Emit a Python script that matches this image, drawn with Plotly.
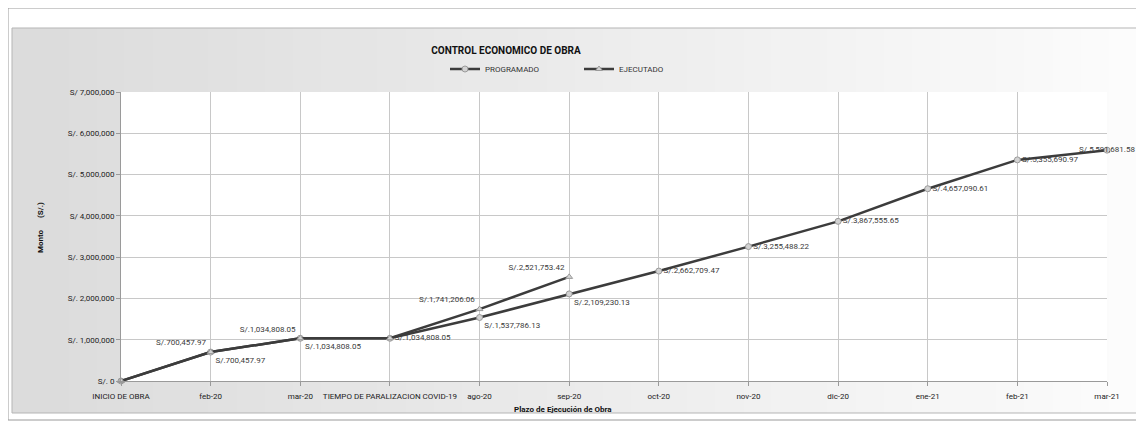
import plotly.graph_objects as go

categories = ["INICIO DE OBRA", "feb-20", "mar-20", "TIEMPO DE PARALIZACION COVID-19",
              "ago-20", "sep-20", "oct-20", "nov-20", "dic-20", "ene-21", "feb-21", "mar-21"]
programado = [0, 700457.97, 1034808.05, 1034808.05, 1537786.13, 2109230.13,
              2662709.47, 3255488.22, 3867555.65, 4657090.61, 5355690.97, 5591681.58]
ejecutado = [0, 700457.97, 1034808.05, 1034808.05, 1741206.06, 2521753.42,
             None, None, None, None, None, None]
y_ticks = [0, 1000000, 2000000, 3000000, 4000000, 5000000, 6000000, 7000000]
y_ticktext = ["S/. 0", "S/. 1,000,000", "S/. 2,000,000", "S/. 3,000,000",
              "S/ 4,000,000", "S/. 5,000,000", "S/. 6,000,000", "S/ 7,000,000"]


def fmt(v):
    if v is None or v == 0:
        return ""
    return "S/." + f"{v:,.2f}"


prog_pos = ["middle right", "bottom right", "bottom right", "middle right", "bottom right",
            "bottom right", "middle right", "middle right", "middle right", "middle right",
            "middle right", "middle center"]
ejec_pos = ["middle right", "top left", "top left", "top left", "top left", "top left",
            "top left", "top left", "top left", "top left", "top left", "top left"]
ejec_text = [fmt(v) for v in ejecutado]
ejec_text[3] = ""  # label hidden behind the programado one in the reference

FONT = "Roboto"
W, H = 1136, 417          # page body has an 8px margin
OFF = 8
L, T = 121 - OFF, 92 - OFF
PW, PH = 986, 289


def px(x):
    return (x - OFF - L) / PW


def py(y):
    return (T + PH - (y - OFF)) / PH


fig = go.Figure()

fig.add_trace(go.Scatter(
    x=categories, y=programado, name="PROGRAMADO", mode="lines+markers+text",
    line=dict(color="#3c3c3c", width=2.5),
    marker=dict(symbol="circle", size=6, color="#d2d2d2", line=dict(color="#9a9a9a", width=1)),
    text=[fmt(v) for v in programado], textposition=prog_pos,
    textfont=dict(family=FONT, size=8, color="#3a3a3a"), cliponaxis=False,
))
fig.add_trace(go.Scatter(
    x=categories, y=ejecutado, name="EJECUTADO", mode="lines+markers+text",
    line=dict(color="#3c3c3c", width=2.5),
    marker=dict(symbol="triangle-up", size=6, color="#d2d2d2", line=dict(color="#9a9a9a", width=1)),
    text=ejec_text, textposition=ejec_pos,
    textfont=dict(family=FONT, size=8, color="#3a3a3a"), cliponaxis=False,
))

shapes = []
n = 40
gx0, gx1 = 12, 1137
for i in range(n):
    t = i / (n - 1)
    g = int(220 + (252 - 220) * t)
    col = f"rgb({g},{g},{g})"
    a = gx0 + (gx1 - gx0) * i / n
    b = gx0 + (gx1 - gx0) * (i + 1) / n + 1
    shapes.append(dict(type="rect", xref="paper", yref="paper",
                       x0=px(a), x1=px(b), y0=py(413), y1=py(28),
                       fillcolor=col, line=dict(width=0), layer="below"))
shapes.append(dict(type="rect", xref="paper", yref="paper",
                   x0=px(8), x1=px(1141), y0=py(420), y1=py(8),
                   line=dict(color="#9a9a9a", width=1), fillcolor="rgba(0,0,0,0)", layer="below"))
shapes.append(dict(type="rect", xref="paper", yref="paper",
                   x0=px(12), x1=px(1137), y0=py(413), y1=py(28),
                   line=dict(color="#b5b5b5", width=1), fillcolor="rgba(0,0,0,0)", layer="below"))
shapes.append(dict(type="rect", xref="paper", yref="paper", x0=0, x1=1, y0=0, y1=1,
                   fillcolor="white", line=dict(width=0), layer="below"))

fig.update_layout(
    width=W, height=H,
    margin=dict(l=L, r=W - L - PW, t=T, b=H - T - PH),
    paper_bgcolor="white", plot_bgcolor="rgba(0,0,0,0)",
    font=dict(family=FONT, size=8, color="#2a2a2a"),
    title=dict(text="<b>CONTROL ECONOMICO DE OBRA</b>", x=(506 - OFF) / W, xanchor="center",
               y=1 - (50 - OFF) / H, yanchor="middle", font=dict(family=FONT, size=10, color="#111")),
    showlegend=True,
    legend=dict(orientation="h", x=px(445), xanchor="left", y=py(69), yanchor="middle",
                bgcolor="rgba(0,0,0,0)", font=dict(family=FONT, size=8, color="#333"),
                itemwidth=30, entrywidth=89, tracegroupgap=0),
    shapes=shapes,
    xaxis=dict(type="category", range=[0, 11], showgrid=True, gridcolor="#c8c8c8", gridwidth=1,
               showline=True, linecolor="#9a9a9a", ticks="outside", ticklen=4, tickcolor="#9a9a9a",
               ticklabelstandoff=3,
               tickfont=dict(family=FONT, size=8, color="#222"), tickangle=0, automargin=False),
    yaxis=dict(range=[0, 7000000], tickvals=y_ticks, ticktext=y_ticktext, showgrid=True,
               gridcolor="#c8c8c8", gridwidth=1, showline=True, linecolor="#9a9a9a",
               ticks="outside", ticklen=4, tickcolor="#9a9a9a", zeroline=False,
               tickfont=dict(family=FONT, size=8, color="#222"), automargin=False),
    annotations=[
        dict(text="<b>Monto&nbsp;&nbsp;&nbsp;&nbsp;&nbsp;&nbsp;(S/.)</b>", textangle=-90,
             xref="paper", yref="paper", x=px(40), y=py(228), xanchor="center", yanchor="middle",
             showarrow=False, font=dict(family=FONT, size=8, color="#111")),
        dict(text="<b>Plazo de Ejecución de Obra</b>", xref="paper", yref="paper",
             x=px(563), y=py(409), xanchor="center", yanchor="middle", showarrow=False,
             font=dict(family=FONT, size=8, color="#111")),
    ],
)

fig.write_html("out.html")
